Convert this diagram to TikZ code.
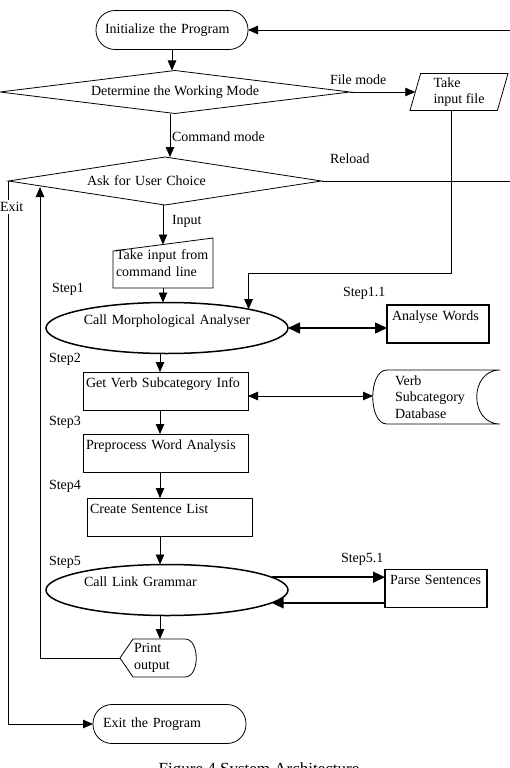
\documentclass[tikz,border=0pt]{standalone}
\usepackage{fontspec}
\setmainfont{Liberation Serif}
\usetikzlibrary{positioning,arrows.meta,shapes.geometric}

\begin{document}
\begin{tikzpicture}[x=1pt, y=-1pt, line width=0.8pt,
  every node/.style={font=\fontsize{14}{16.5}\selectfont, inner sep=0pt, outer sep=0pt},
  arr/.style={-{Triangle[length=10pt,width=8.5pt]}},
  dblarr/.style={{Triangle[length=10pt,width=8.5pt]}-{Triangle[length=10pt,width=8.5pt]}},
  heavyarr/.style={line width=1.5pt, -{Triangle[length=12pt,width=11pt]}},
  heavydbl/.style={line width=1.5pt, {Triangle[length=12pt,width=11pt]}-{Triangle[length=12pt,width=11pt]}},
  terminal/.style={draw, rounded corners=19pt, minimum height=39pt, inner xsep=9pt, text width=134pt, align=left},
  decision/.style={draw, diamond, aspect=7},
  procbox/.style={draw, inner xsep=3pt, text width=159pt, align=left, minimum height=38pt, text height=9pt, text depth=17pt},
  subproc/.style={draw, line width=1.5pt, inner xsep=5pt, text width=92pt, align=left, minimum height=38pt, text height=9pt, text depth=17pt},
  callnode/.style={draw, ellipse, line width=1.5pt, minimum width=242pt, minimum height=51pt, text width=170pt, text height=9pt, text depth=17pt},
  steplbl/.style={anchor=west}]
\useasboundingbox (0,0) rectangle (509,768);

% main flow
\node[terminal] (init) at (172,30) {Initialize the Program};
\node[decision, minimum width=350pt, minimum height=43pt] (mode) at (175,92) {Determine the Working Mode};
\node[draw, trapezium, trapezium left angle=70, trapezium right angle=110, trapezium stretches body,
      minimum width=98pt, minimum height=37pt, align=left] (file) at (459,92) {Take\\input file};
\node[decision, minimum width=313pt, minimum height=48pt, text width=156pt, align=left] (ask) at (165,181) {Ask for User Choice};
\node[inner xsep=3pt, text width=94pt, align=left, minimum height=50pt] (cmdin) at (163,263) {Take input from\\command line};
\node[callnode, align=center] (morph) at (167,328) {Call Morphological Analyser};
\node[subproc] (analyse) at (438,324) {Analyse Words};
\node[procbox] (getverb) at (165.5,391) {Get Verb Subcategory Info};
\node[inner xsep=8pt, text width=97pt, align=left, minimum height=54pt] (db) at (443.5,397) {Verb\\Subcategory\\Database};
\node[procbox] (prep) at (165.5,453) {Preprocess Word Analysis};
\node[procbox] (slist) at (169.5,517) {Create Sentence List};
\node[callnode, align=left, xshift=0pt] (link) at (167,590) {\hspace*{2pt}Call Link Grammar};
\node[subproc] (parse) at (436,588.5) {Parse Sentences};
\node[inner xsep=1pt, text width=61pt, align=left, minimum height=38pt] (print) at (164.5,658) {Print\\output};
\node[terminal, inner xsep=10pt, text width=133pt] (exitp) at (169.5,724) {Exit the Program};

% outlines of the odd shapes
\draw (cmdin.south west) -- ([yshift=-13pt]cmdin.north west) -- (cmdin.north east) -- (cmdin.south east) -- cycle;
\draw (db.north east) -- (db.north west) .. controls ([xshift=-19pt]db.north west) and ([xshift=-19pt]db.south west) .. (db.south west)
  -- (db.south east) .. controls ([xshift=-31pt]db.south east) and ([xshift=-31pt]db.north east) .. (db.north east);
\coordinate (printtip) at ([xshift=-13pt]print.west);
\draw (print.north west) -- (printtip) -- (print.south west) -- ([xshift=-11pt]print.south east)
  .. controls ([xshift=4pt]print.south east) and ([xshift=4pt]print.north east) .. ([xshift=-11pt]print.north east) -- cycle;

% connectors
\coordinate (spine) at (160,0);
\coordinate (rturn) at (510,181);
\coordinate (backin) at (40,187);
\coordinate (dbin) at ([xshift=-14pt]db.west);
\draw[arr] (init.south) -- (init.south |- mode.north);
\draw[arr] (mode.east) -- (mode.east -| file.west);
\draw[arr] ([xshift=-5pt]mode.south) -- ([xshift=-5pt]mode.south |- ask.north);
\draw[arr] (ask.east) -- (rturn) |- (init.east);
\draw[arr] (ask.south -| cmdin) -- ([yshift=-6.5pt]cmdin.north);
\draw[arr] (cmdin.south) -- (cmdin.south |- morph.north);
\draw[arr] ([xshift=-8pt]file.south) -- ++(0,163) -| (morph.13);
\draw[heavydbl] (morph.east) -- (morph.east -| analyse.west);
\draw[arr] (morph.south -| spine) -- (getverb.north -| spine);
\draw[dblarr] ([yshift=-5pt]getverb.east) -- ([yshift=-5pt]getverb.east -| dbin);
\draw[arr] (getverb.south -| spine) -- (prep.north -| spine);
\draw[arr] (prep.south -| spine) -- (slist.north -| spine);
\draw[arr] (slist.south -| spine) -- (link.north -| spine);
\draw[heavyarr] (link.7) -- (link.7 -| parse.west);
\draw[heavyarr] (parse.west |- link.-7) -- (link.-7);
\draw[arr] (link.south -| spine) -- (print.north -| spine);
\draw[arr] (printtip) -| (backin);
\draw[arr] (ask.west) |- (exitp.west);

% labels
\node[anchor=west] (lfile) at (330,80) {File mode};
\node[anchor=west] (lcmd) at (172,137) {Command mode};
\node[anchor=west] (lreload) at (330,159) {Reload};
\node[anchor=west] (linput) at (172,221) {Input};
\node[anchor=west, fill=white, inner ysep=2pt] (lexit) at (0,207) {Exit};
\node[steplbl] (s1) at (52,289) {Step1};
\node[steplbl] (s11) at (343,293) {Step1.1};
\node[steplbl] (s2) at (49,359) {Step2};
\node[steplbl] (s3) at (49,422) {Step3};
\node[steplbl] (s4) at (49,486) {Step4};
\node[steplbl] (s5) at (49,562) {Step5};
\node[steplbl] (s51) at (341,559) {Step5.1};
\node[font=\fontsize{17}{20}\selectfont, anchor=base] (caption) at (259,774) {Figure 4 System Architecture};
\end{tikzpicture}
\end{document}
